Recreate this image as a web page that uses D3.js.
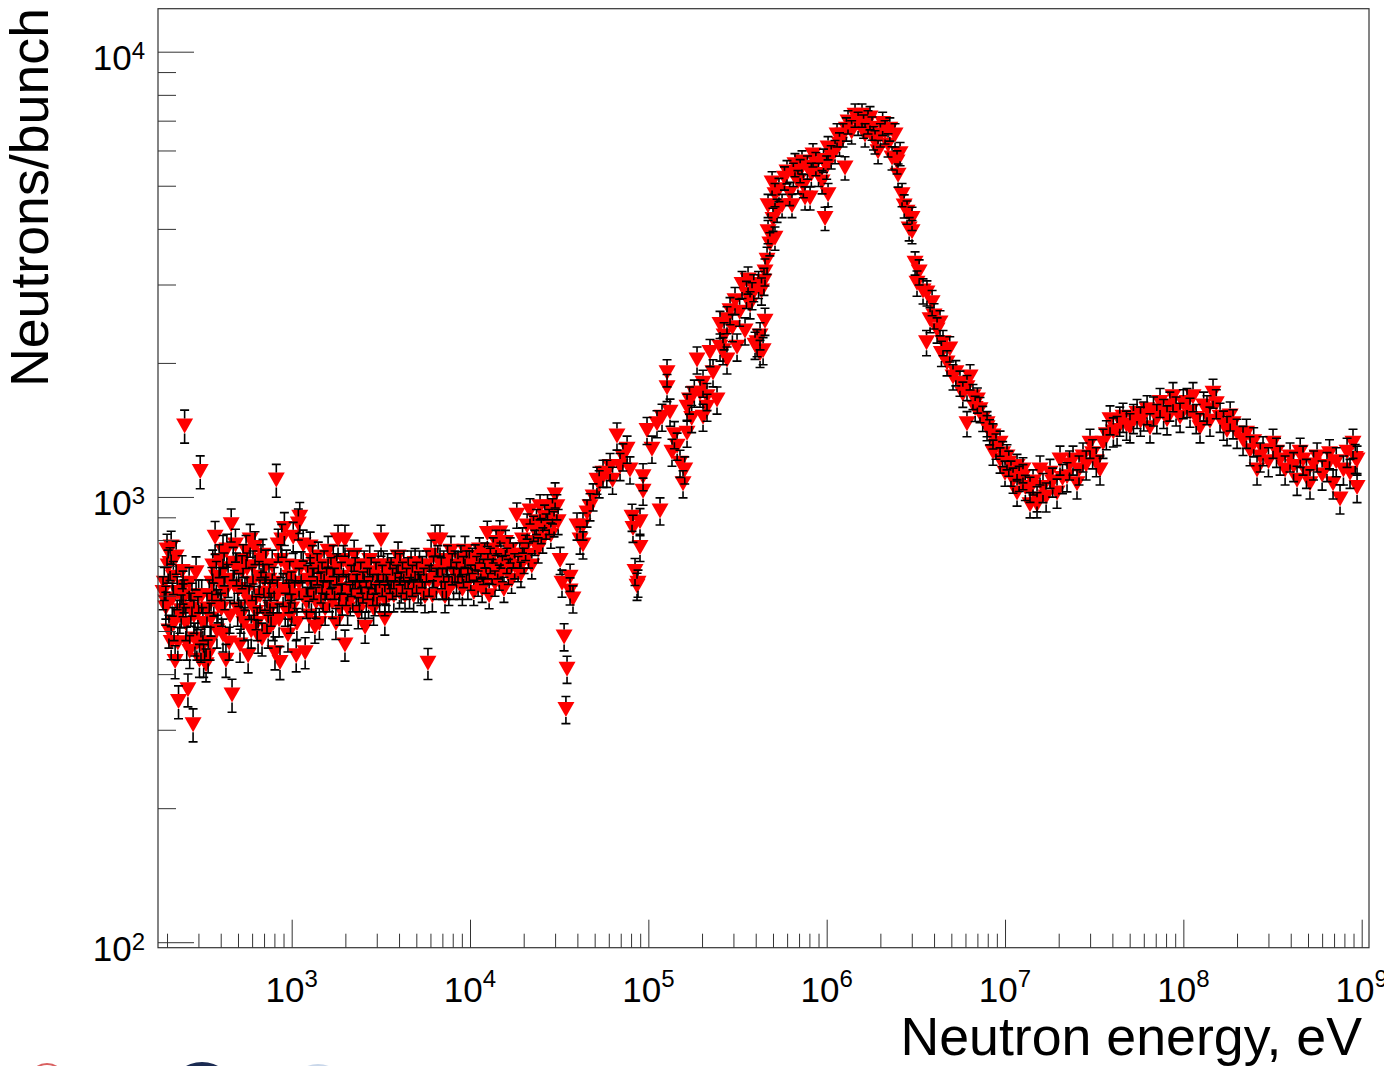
<!DOCTYPE html>
<html><head><meta charset="utf-8">
<script src="https://cdn.jsdelivr.net/npm/d3@7"></script>
<style>body{margin:0;background:#fff}svg{display:block}text{font-family:"Liberation Sans",Arial,Helvetica,sans-serif}</style>
</head><body>
<svg id="c" width="1384" height="1066"></svg>
<script>
// ---- axis settings ----
const xDomain = [178, 1.099e9];
const yDomain = [97.2, 12490];
const xMajorExps = [3, 4, 5, 6, 7, 8, 9];
const yMajorExps = [2, 3, 4];
const xTitle = "Neutron energy, eV";
const yTitle = "Neutrons/bunch";

// ---- data: [energy eV, neutrons/bunch] ----
const lowA = [[190,610],[193,640],[197,581],[197,563],[200,760],[203,700],[205,500],[208,709],[211,772],[211,471],[214,590],[217,660],[219,520],[222,427],[225,733],[228,610],[230,470],[232,347],[236,540],[240,555],[243,680],[246,628],[246,588],[249,600],[251,1444],[255,520],[258,470],[262,369],[266,640],[268,450],[272,560],[276,590],[280,308],[283,540],[287,480],[291,676],[294,470],[298,550],[301,600],[304,430],[307,1140],[310,465],[313,600],[318,520],[321,430],[325,470],[331,420],[335,560],[340,440],[345,600],[349,470],[353,532],[357,640],[361,700],[366,590],[372,812],[378,660],[381,500],[386,570],[392,720],[398,640],[404,560],[412,755],[412,490],[418,690],[422,610],[428,430],[433,760],[440,650],[446,470],[451,540],[458,866],[463,359],[470,710],[477,630],[484,780],[491,690],[498,560],[505,620],[513,465],[520,540],[527,680],[534,720],[540,520],[547,608],[555,755],[562,690],[570,440],[577,580],[585,800],[593,500],[600,640],[607,697],[615,580],[623,770],[631,550],[640,520],[648,487],[657,660],[665,600],[673,720],[682,480],[690,740],[699,650],[708,608],[717,700],[727,540],[738,500],[746,650],[756,600],[766,560],[778,700],[788,520],[797,640],[806,447],[820,1091],[830,600],[840,780],[850,530],[860,425],[870,720],[880,800],[895,620],[910,850],[920,560],[935,700],[953,490],[965,600],[975,660],[985,540]];
const lowB = [[995,628],[1000,560],[1020,812],[1040,600],[1050,697],[1060,440],[1070,520],[1090,870],[1100,640],[1110,900],[1130,697],[1150,600],[1160,780],[1190,447],[1210,580],[1230,650],[1250,540],[1270,772],[1270,676],[1290,600],[1310,720],[1330,640],[1350,510],[1370,580],[1390,690],[1410,733],[1430,520],[1460,628],[1480,660],[1500,600],[1520,700],[1540,560],[1570,640],[1600,755],[1630,600],[1660,676],[1690,580],[1710,720],[1740,640],[1770,520],[1790,690],[1820,800],[1840,620],[1860,560],[1900,660],[1920,590],[1950,720],[1990,800],[1990,465],[2020,620],[2060,560],[2090,700],[2130,588],[2160,650],[2200,600],[2240,740],[2270,676],[2300,620],[2330,700],[2360,550],[2400,600],[2440,660],[2470,580],[2510,628],[2550,700],[2580,510],[2620,600],[2660,640],[2700,580],[2740,720],[2790,676],[2850,620],[2880,560],[2930,588],[2970,660],[3010,620],[3060,700],[3110,600],[3170,800],[3220,650],[3270,700],[3330,588],[3330,532],[3390,620],[3450,690],[3510,600],[3560,660],[3610,676],[3680,640],[3740,600],[3810,700],[3870,650],[3950,733],[4020,610],[4050,690],[4110,628],[4180,660],[4250,700],[4320,600],[4410,640],[4500,676],[4580,610],[4670,700],[4750,650],[4830,600],[4920,709],[5020,660],[5120,628],[5210,700],[5300,620],[5400,680],[5500,640],[5590,597],[5700,700],[5810,423],[5900,650],[6050,740],[6150,600],[6250,680],[6370,800],[6480,640],[6600,720],[6790,800],[6900,676],[7000,640],[7120,700],[7240,597],[7360,640],[7480,720],[7610,620],[7820,755],[7950,690],[8090,640],[8240,700],[8400,660],[8560,697],[8720,640],[8890,720],[9060,620],[9200,680],[9370,755],[9550,700],[9730,640],[9910,700]];
const midE = [[10100,660],[10300,720],[10500,610],[10700,733],[10900,690],[11100,640],[11300,760],[11500,700],[11700,620],[11900,680],[12100,740],[12300,650],[12500,828],[12600,700],[12800,600],[13000,720],[13300,680],[13500,760],[13800,640],[14000,790],[14300,700],[14600,660],[14700,830],[14900,740],[15200,690],[15500,620],[15800,790],[16100,720],[16400,680],[16800,760],[17100,650],[17500,740],[17800,700],[18300,910],[18600,690],[19000,740],[19300,670],[19700,800],[20100,720],[20500,770],[20900,860],[21300,740],[21700,930],[22200,700],[22700,850],[23100,790],[23600,880],[24100,760],[24700,950],[25100,840],[25600,800],[26200,900],[26700,860],[27200,950],[27800,880],[28400,820],[29000,930],[29600,870],[30000,1010],[30700,950],[31200,880]];
const resonance = [[32000,720],[32800,640],[33700,485],[34500,333],[35000,410],[36400,660],[36400,615],[37800,590],[39800,860],[41400,800],[43000,780],[43000,860],[45300,920],[47100,950],[49000,1000],[51500,1090],[53000,1070],[55700,1130],[58500,1130],[61000,1170],[63000,1090],[66700,1370],[69400,1170],[72000,1230],[76000,1280],[78900,1150],[81000,900],[82000,850],[84200,680],[86400,630],[87500,640],[89800,880],[89800,770],[93400,1110],[93400,1030],[98300,1410],[104800,1280],[111800,1460],[116300,930],[119300,1510],[127300,1900],[127300,1760],[132300,1550],[135700,1260],[140000,1380],[145000,1300],[150500,1190],[156500,1070],[160000,1150],[164800,1590],[164800,1390],[170000,1650],[175000,1500],[181000,1710],[187500,2030],[194900,1710],[202600,1800],[202600,1510],[213300,1590],[213300,1680],[221700,2110],[230500,1900],[242700,1650],[252300,2170],[252300,2440],[262300,2130],[266000,2300],[276100,2030],[276100,2500],[287100,2620],[296000,2400],[306200,2760],[314300,2170],[325000,2600],[335300,3000],[348500,2360],[355000,2850],[362300,3070],[372000,2700],[381400,2830],[390000,2950],[396500,2190],[407000,2220],[415000,3000],[423000,2100],[423000,2300],[431000,2900],[440000,2130],[445000,3050],[451000,2480],[451000,3200],[463000,3400]];
const peak = [[469000,3940],[469000,4510],[480000,3700],[494000,5070],[500000,4200],[513000,3810],[513000,4770],[527000,4400],[540000,4900],[562000,4510],[580000,5200],[599000,5370],[620000,4800],[639000,4510],[650000,5300],[664000,5570],[690000,5100],[710000,5400],[727000,5650],[740000,5000],[756000,4690],[780000,5500],[807000,4690],[820000,5300],[838000,5860],[870000,5600],[900000,5300],[942000,5100],[960000,5700],[979000,4220],[1000000,5500],[1018000,4770],[1018000,6080],[1060000,5800],[1114000,5960],[1143000,6500],[1180000,6200],[1235000,6500],[1267000,5480],[1290000,6700],[1317000,6950],[1380000,6600],[1442000,7200],[1500000,6900],[1578000,7200],[1610000,6800],[1641000,6500],[1705000,6950],[1750000,7100],[1796000,6730],[1830000,6400],[1867000,6270],[1941000,5960],[2000000,6500],[2060000,6900],[2125000,6600],[2208000,6170],[2260000,6700],[2325000,5770],[2417000,6500],[2480000,5650],[2513000,5280],[2580000,5900],[2646000,4770],[2720000,4500],[2822000,4360],[2900000,4000],[3010000,4220],[3010000,3940],[3130000,3350]];
const decline = [[3210000,3020],[3300000,3200],[3470000,2900],[3630000,2220],[3650000,2870],[3800000,2500],[3900000,2730],[4000000,2550],[4160000,2370],[4320000,2460],[4400000,2100],[4490000,2220],[4730000,2000],[4900000,2150],[5110000,1860],[5300000,1900],[5590000,1800],[5800000,1700],[6120000,1460],[6120000,1760],[6370000,1860],[6610000,1680],[6800000,1580],[7000000,1650],[7240000,1570],[7500000,1500],[7930000,1460],[7930000,1430],[8200000,1400],[8560000,1370],[8560000,1260],[8900000,1300],[9380000,1320],[9380000,1210],[9700000,1250],[10000000,1130],[10260000,1230],[10500000,1190],[10800000,1130],[11090000,1090],[11680000,1170],[11680000,1020],[12000000,1100],[12610000,1110],[12610000,1150],[13000000,1050],[13810000,960],[13810000,1040],[14360000,1080],[15120000,990],[15120000,960]];
const tail = [[15710000,1150],[16330000,1050],[17000000,1000],[17880000,1130],[18500000,1080],[19570000,1020],[20340000,1210],[21000000,1100],[22270000,1110],[23000000,1180],[24060000,1210],[25330000,1070],[26000000,1150],[27370000,1230],[28500000,1180],[29970000,1320],[31000000,1250],[32500000,1200],[34100000,1150],[35450000,1320],[37000000,1380],[38800000,1490],[40500000,1400],[42500000,1410],[44000000,1480],[45900000,1510],[48000000,1450],[50200000,1430],[52500000,1500],[55000000,1540],[57500000,1480],[60000000,1520],[62600000,1570],[65000000,1430],[68000000,1560],[71000000,1500],[74000000,1630],[77500000,1540],[81000000,1490],[84000000,1600],[87500000,1680],[91000000,1560],[95800000,1510],[100000000,1620],[104800000,1630],[109000000,1550],[113300000,1680],[118000000,1500],[124000000,1430],[130000000,1600],[135700000,1570],[141000000,1480],[146700000,1710],[153000000,1620],[160600000,1510],[168000000,1450],[175700000,1410],[183000000,1520],[189900000,1460],[200000000,1390],[216100000,1340],[226000000,1390],[236500000,1270],[248000000,1330],[258900000,1150],[270000000,1230],[279800000,1270],[300000000,1200],[318300000,1320],[333000000,1260],[348500000,1210],[372000000,1150],[396500000,1230],[415000000,1170],[434000000,1090],[452000000,1260],[469000000,1210],[490000000,1130],[513000000,1070],[537000000,1180],[562000000,1230],[600000000,1120],[639000000,1170],[660000000,1250],[691000000,1070],[720000000,1200],[756000000,990],[790000000,1150],[828000000,1260],[860000000,1130],[894000000,1320],[920000000,1220],[942000000,1050],[942000000,1210]];

// relative uncertainty read from error-bar lengths, per segment
const segments = [
  {data: lowA, relErr: 0.085},
  {data: lowB, relErr: 0.08},
  {data: midE, relErr: 0.065},
  {data: resonance, relErr: 0.07},
  {data: peak, relErr: 0.06},
  {data: decline, relErr: 0.065},
  {data: tail, relErr: 0.075}
];

// ---- layout ----
const L = 158, R = 1369, T = 8.7, B = 947.7;
const svg = d3.select("#c");
const x = d3.scaleLog().domain(xDomain).range([L, R]);
const y = d3.scaleLog().domain(yDomain).range([B, T]);

const points = [];
segments.forEach(s => s.data.forEach(d => points.push({E: d[0], N: d[1], f: s.relErr})));
points.sort((a, b) => a.E - b.E);

const plot = svg.append("g");

// markers (drawn first, ROOT-like)
const mw = 17, mh = 15;
const triPath = `M${-mw/2},${-mh/2}L${mw/2},${-mh/2}L0,${mh/2}Z`;
plot.append("g").selectAll("path").data(points).join("path")
  .attr("d", triPath)
  .attr("transform", d => `translate(${x(d.E)},${y(d.N)})`)
  .attr("fill", "#ff0000");

// error bars outside the marker
const gap = 7.5, cap = 4.5;
const eb = plot.append("g").attr("stroke", "#000").attr("stroke-width", 1.6).attr("fill", "none");
points.forEach(d => {
  const cx = x(d.E), cy = y(d.N);
  const yu = y(d.N * (1 + d.f)), yl = y(d.N * (1 - d.f));
  let p = "";
  if (yu < cy - gap) p += `M${cx},${cy - gap}V${yu}`;
  p += `M${cx - cap},${yu}H${cx + cap}`;
  if (yl > cy + gap) p += `M${cx},${cy + gap}V${yl}`;
  p += `M${cx - cap},${yl}H${cx + cap}`;
  eb.append("path").attr("d", p);
});

// ---- axes ----
const xMinor = [], yMinor = [];
for (let e = 2; e <= 9; e++) for (let k = 2; k <= 9; k++) { const v = k * Math.pow(10, e); if (v > xDomain[0] && v < xDomain[1]) xMinor.push(v); }
for (let e = 1; e <= 4; e++) for (let k = 2; k <= 9; k++) { const v = k * Math.pow(10, e); if (v > yDomain[0] && v < yDomain[1]) yMinor.push(v); }
const xMajor = xMajorExps.map(e => Math.pow(10, e));
const yMajor = yMajorExps.map(e => Math.pow(10, e));

const axColor = "#333";
function styleAxis(g) { g.select(".domain").remove(); g.selectAll("line").attr("stroke", axColor).attr("stroke-width", 1); g.selectAll("text").remove(); }
svg.append("g").attr("transform", `translate(0,${B})`).call(d3.axisBottom(x).tickValues(xMinor).tickSize(-14).tickFormat("")).call(styleAxis);
svg.append("g").attr("transform", `translate(0,${B})`).call(d3.axisBottom(x).tickValues(xMajor).tickSize(-28).tickFormat("")).call(styleAxis);
svg.append("g").attr("transform", `translate(${L},0)`).call(d3.axisLeft(y).tickValues(yMinor).tickSize(-18).tickFormat("")).call(styleAxis);
svg.append("g").attr("transform", `translate(${L},0)`).call(d3.axisLeft(y).tickValues(yMajor).tickSize(-36).tickFormat("")).call(styleAxis);

// frame
svg.append("rect").attr("x", L).attr("y", T).attr("width", R - L).attr("height", B - T)
  .attr("fill", "none").attr("stroke", axColor).attr("stroke-width", 1.2);

// tick labels
xMajorExps.forEach(e => {
  const t = svg.append("text").attr("x", x(Math.pow(10, e))).attr("y", 1002)
    .attr("text-anchor", "middle").attr("font-size", 35).attr("fill", "#000");
  t.append("tspan").text("10");
  t.append("tspan").attr("font-size", 24).attr("dy", -15).text(e);
});
yMajorExps.forEach(e => {
  const t = svg.append("text").attr("x", 145).attr("y", y(Math.pow(10, e)) + 18.5)
    .attr("text-anchor", "end").attr("font-size", 35).attr("fill", "#000");
  t.append("tspan").text("10");
  t.append("tspan").attr("font-size", 24).attr("dy", -11).text(e);
});

// axis titles
svg.append("text").attr("x", 1362).attr("y", 1055).attr("text-anchor", "end")
  .attr("font-size", 53.7).attr("fill", "#000").text(xTitle);
svg.append("text").attr("transform", "translate(48,8) rotate(-90)").attr("text-anchor", "end")
  .attr("font-size", 53.7).attr("fill", "#000").text(yTitle);

// partially visible logos at the bottom edge
const logos = svg.append("g");
logos.append("ellipse").attr("cx", 47).attr("cy", 1082).attr("rx", 18).attr("ry", 18).attr("fill", "none").attr("stroke", "#d96060").attr("stroke-width", 2);
logos.append("ellipse").attr("cx", 202).attr("cy", 1088).attr("rx", 30).attr("ry", 26).attr("fill", "#1b2b52");
logos.append("ellipse").attr("cx", 318).attr("cy", 1095).attr("rx", 30).attr("ry", 31).attr("fill", "#c9d7ea");
</script>
</body></html>
